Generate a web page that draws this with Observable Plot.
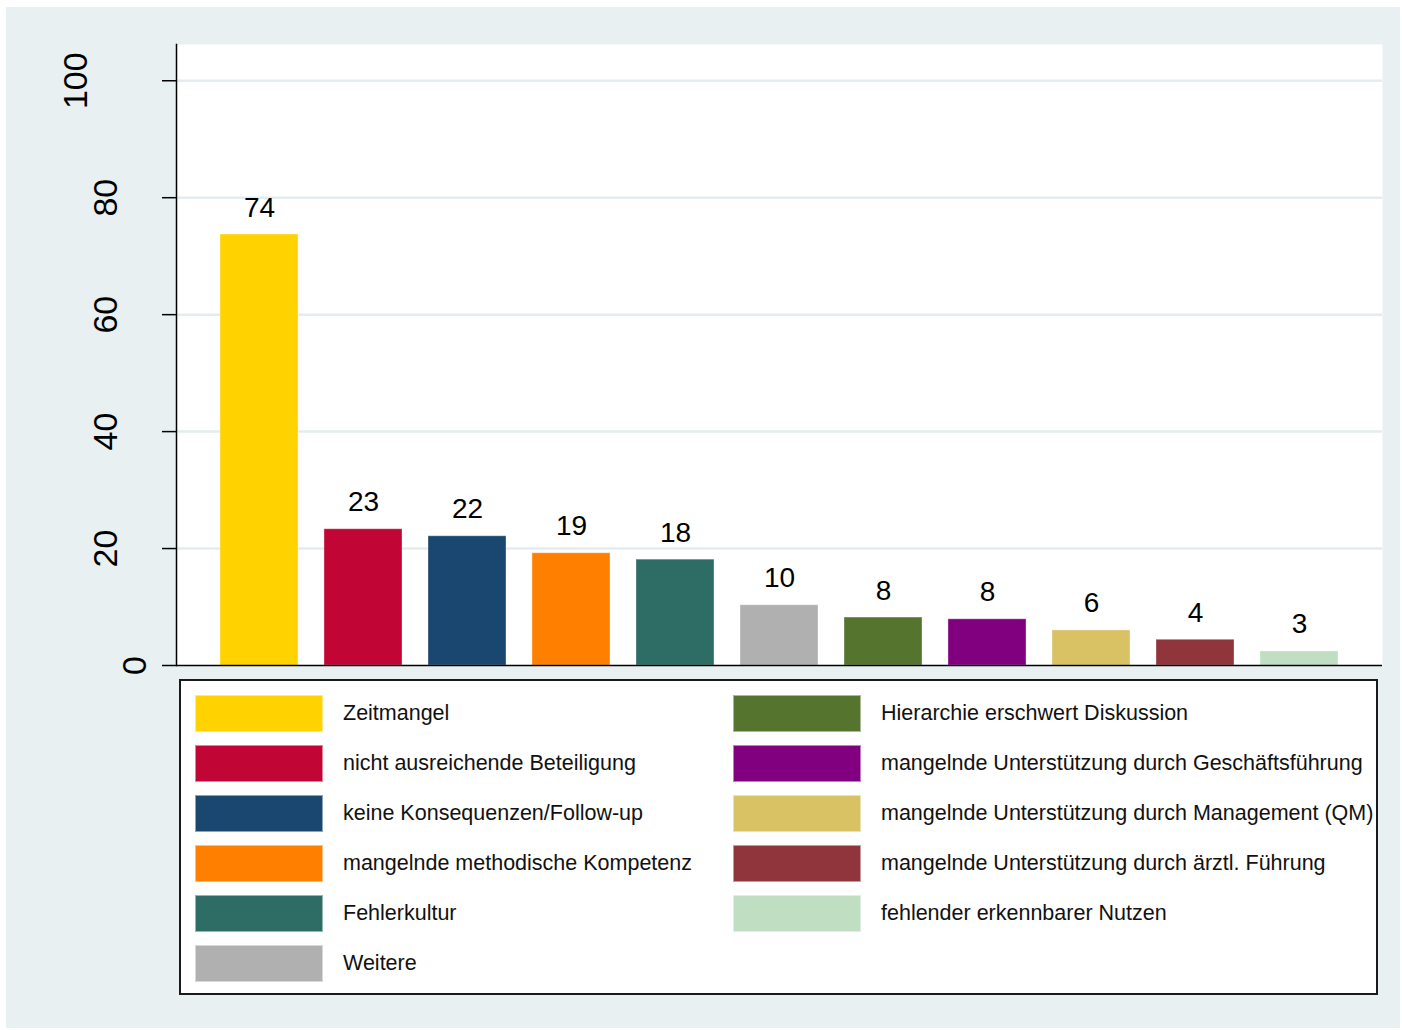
<!DOCTYPE html>
<html>
<head>
<meta charset="utf-8">
<script src="https://cdn.jsdelivr.net/npm/d3@7"></script>
<script src="https://cdn.jsdelivr.net/npm/@observablehq/plot@0.6"></script>
<style>
  html, body { margin: 0; padding: 0; background: #ffffff; }
  body { width: 1402px; height: 1030px; position: relative; overflow: hidden;
         font-family: "Liberation Sans", Arial, Helvetica, sans-serif; }
  #bg { position: absolute; left: 6px; top: 7px; width: 1394px; height: 1021px; background: #e9f0f2; }
  #chart { position: absolute; left: 6px; top: 7px; }
  #legend { position: absolute; left: 179px; top: 679px; width: 1195px; height: 312px;
            background: #ffffff; border: 2px solid #1a1a1a; }
  .item { position: absolute; display: flex; align-items: center; height: 37px; }
  .sw { width: 128px; height: 37px; box-sizing: border-box; border: 1px solid rgba(255,255,255,0.5); }
  .lab { margin-left: 20px; font-size: 21.5px; color: #111; white-space: nowrap; }
</style>
</head>
<body>
<div id="bg"></div>
<div id="chart"></div>
<div id="legend"></div>
<script>
const categories = [
  "Zeitmangel",
  "nicht ausreichende Beteiligung",
  "keine Konsequenzen/Follow-up",
  "mangelnde methodische Kompetenz",
  "Fehlerkultur",
  "Weitere",
  "Hierarchie erschwert Diskussion",
  "mangelnde Unterstützung durch Geschäftsführung",
  "mangelnde Unterstützung durch Management (QM)",
  "mangelnde Unterstützung durch ärztl. Führung",
  "fehlender erkennbarer Nutzen"
];
const values = [73.7, 23.3, 22.1, 19.2, 18.1, 10.3, 8.2, 7.9, 6.0, 4.4, 2.4];
const valueLabels = ["74", "23", "22", "19", "18", "10", "8", "8", "6", "4", "3"];
const colors = ["#ffd200", "#c10534", "#1a476f", "#ff7f00", "#2d6d66", "#b0b0b0",
                "#55752f", "#800080", "#d9c264", "#90353b", "#c0dec1"];
const yTicks = [0, 20, 40, 60, 80, 100];
const yGrid = [20, 40, 60, 80, 100];

const data = categories.map((c, i) => ({cat: c, value: values[i], label: valueLabels[i], color: colors[i]}));

const tickLabelMarks = [1, 2, 3].map(n =>
  Plot.text(yTicks.filter(t => String(t).length === n), {
    y: d => d, text: d => String(d), frameAnchor: "left", rotate: -90,
    textAnchor: "middle", lineAnchor: "middle", fontSize: 34, fill: "#000",
    dx: -41 - 29.5 * (n - 1)
  })
);

const chart = Plot.plot({
  width: 1394,
  height: 673,
  marginLeft: 170,
  marginRight: 18,
  marginTop: 37,
  marginBottom: 15,
  style: { background: "transparent", fontFamily: "'Liberation Sans', Arial, sans-serif", overflow: "visible" },
  x: { domain: categories, paddingInner: 0.25, paddingOuter: 0.423, axis: null },
  y: { domain: [0, 106.2], axis: null },
  marks: [
    Plot.frame({ fill: "white", stroke: null }),
    Plot.gridY(yGrid, { stroke: "#e3ecef", strokeOpacity: 1, strokeWidth: 2.5 }),
    Plot.barY(data, { x: "cat", y: "value", fill: "color", stroke: "white", strokeOpacity: 0.35, strokeWidth: 1 }),
    Plot.text(data, { x: "cat", y: "value", text: "label", dy: -27, fontSize: 28, lineAnchor: "middle", fill: "#000" }),
    Plot.axisY({ ticks: yTicks, tickSize: 14, tickFormat: () => "", label: null, stroke: "#000", strokeWidth: 1.5 }),
    Plot.frame({ anchor: "left", stroke: "#000", strokeWidth: 1.5 }),
    Plot.ruleY([0], { stroke: "#000", strokeWidth: 1.5 }),
    ...tickLabelMarks
  ]
});
document.getElementById("chart").appendChild(chart);

// Legend: two columns, column-major order
const legend = document.getElementById("legend");
categories.forEach((c, i) => {
  const col = i < 6 ? 0 : 1;
  const row = i < 6 ? i : i - 6;
  const item = document.createElement("div");
  item.className = "item";
  item.style.left = (col === 0 ? 14 : 552) + "px";
  item.style.top = (14 + row * 50) + "px";
  const sw = document.createElement("div");
  sw.className = "sw";
  sw.style.background = colors[i];
  const lab = document.createElement("div");
  lab.className = "lab";
  lab.textContent = c;
  item.appendChild(sw);
  item.appendChild(lab);
  legend.appendChild(item);
});
</script>
</body>
</html>
